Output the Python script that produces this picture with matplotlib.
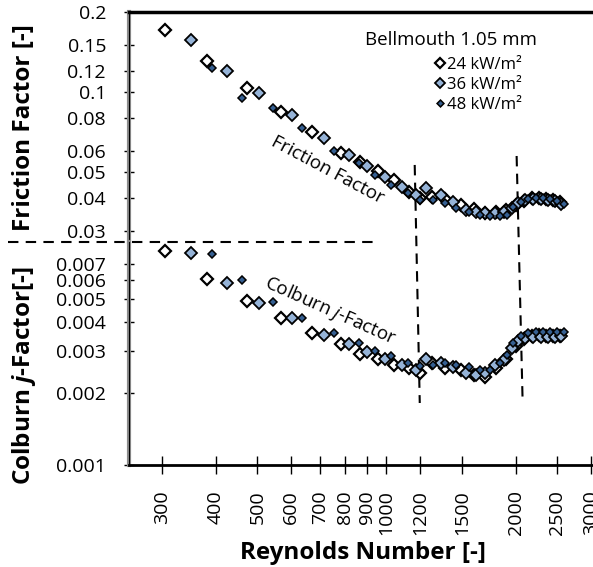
import matplotlib
matplotlib.use("Agg")
import matplotlib.pyplot as plt
from matplotlib.lines import Line2D
from matplotlib.ticker import FixedLocator, NullLocator

plt.rcParams['font.family'] = ['Open Sans', 'DejaVu Sans']
plt.rcParams['mathtext.fontset'] = 'custom'
plt.rcParams['mathtext.it'] = 'Open Sans:italic'
plt.rcParams['mathtext.bf'] = 'Open Sans:bold:italic'
plt.rcParams['mathtext.rm'] = 'Open Sans'

# ---------------- data ----------------
re_24 = [305, 381, 474, 569, 670, 784, 870, 958, 1044, 1130, 1200, 1280, 1370, 1490,
         1600, 1700, 1800, 1900, 2000, 2090, 2180, 2270, 2360, 2450, 2540]
f_24 = [0.171, 0.131, 0.1036, 0.0842, 0.0708, 0.0590, 0.0545, 0.0505, 0.0467, 0.0421,
        0.0400, 0.0403, 0.0395, 0.0377, 0.0362, 0.0352, 0.0355, 0.0360, 0.0375, 0.0390,
        0.0398, 0.0400, 0.0396, 0.0392, 0.0385]
j_24 = [0.00794, 0.00606, 0.00490, 0.00416, 0.00360, 0.00321, 0.00294, 0.00280, 0.00262,
        0.00255, 0.00243, 0.00267, 0.00255, 0.00250, 0.00240, 0.00235, 0.00255, 0.00280,
        0.00315, 0.00340, 0.00350, 0.00352, 0.00350, 0.00348, 0.00350]

re_36 = [351, 425, 505, 601, 715, 818, 902, 995, 1085, 1170, 1235, 1340, 1430, 1530,
         1620, 1700, 1790, 1880, 1960, 2030, 2110, 2200, 2290, 2380, 2470, 2560]
f_36 = [0.157, 0.120, 0.0992, 0.0820, 0.0672, 0.0580, 0.0527, 0.0479, 0.0440, 0.0410,
        0.0437, 0.0410, 0.0386, 0.0361, 0.0355, 0.0350, 0.0352, 0.0355, 0.0367, 0.0384,
        0.0392, 0.0395, 0.0396, 0.0393, 0.0390, 0.0380]
j_36 = [0.00778, 0.00583, 0.00481, 0.00416, 0.00353, 0.00321, 0.00297, 0.00280, 0.00262,
        0.00250, 0.00280, 0.00267, 0.00257, 0.00243, 0.00238, 0.00243, 0.00262, 0.00275,
        0.00309, 0.00333, 0.00343, 0.00345, 0.00345, 0.00345, 0.00345, 0.00348]

re_48 = [392, 461, 545, 634, 755, 864, 942, 1027, 1121, 1200, 1283, 1370, 1455, 1555,
         1650, 1747, 1845, 1915, 1975, 2060, 2140, 2230, 2320, 2410, 2500, 2600]
f_48 = [0.123, 0.0950, 0.0871, 0.0733, 0.0600, 0.0541, 0.0488, 0.0448, 0.0418, 0.0393,
        0.0393, 0.0384, 0.0367, 0.0355, 0.0346, 0.0341, 0.0341, 0.0346, 0.0370, 0.0385,
        0.0395, 0.0398, 0.0398, 0.0395, 0.0390, 0.0378]
j_48 = [0.00771, 0.00600, 0.00486, 0.00416, 0.00357, 0.00324, 0.00300, 0.00286, 0.00267,
        0.00260, 0.00262, 0.00267, 0.00262, 0.00257, 0.00250, 0.00250, 0.00267, 0.00289,
        0.00324, 0.00350, 0.00360, 0.00362, 0.00362, 0.00362, 0.00362, 0.00362]

labels = ["24 kW/m\u00b2", "36 kW/m\u00b2", "48 kW/m\u00b2"]

x_ticks = [300, 400, 500, 600, 700, 800, 900, 1000, 1200, 1500, 2000, 2500, 3000]
x_ticklabels = ["300", "400", "500", "600", "700", "800", "900", "1000", "1200",
                "1500", "2000", "2500", "3000"]
f_ticks = [0.03, 0.04, 0.05, 0.06, 0.08, 0.1, 0.12, 0.15, 0.2]
f_ticklabels = ["0.03", "0.04", "0.05", "0.06", "0.08", "0.1", "0.12", "0.15", "0.2"]
j_ticks = [0.001, 0.002, 0.003, 0.004, 0.005, 0.006, 0.007]
j_ticklabels = ["0.001", "0.002", "0.003", "0.004", "0.005", "0.006", "0.007"]

# transition guide lines (Re at top, Re at bottom)
trans1 = [1164, 1196]
trans2 = [2012, 2078]

# ---------------- styles ----------------
styles = [
    dict(marker='D', ms=5.8, mfc='white', mec='black', mew=1.6),
    dict(marker='D', ms=5.8, mfc='#95B3D7', mec='black', mew=1.3),
    dict(marker='D', ms=4.1, mfc='#355F91', mec='black', mew=1.1),
]

W, H = 593, 567
fig = plt.figure(figsize=(W / 100, H / 100), dpi=100)
L = 129 / W
axt = fig.add_axes([L, 1 - 242 / H, 1 - L, 230 / H])
axb = fig.add_axes([L, 1 - 465 / H, 1 - L, 223 / H])

xlim = (251, 3032)
for ax in (axt, axb):
    ax.set_xscale('log')
    ax.set_yscale('log')
    ax.set_xlim(*xlim)
    ax.patch.set_alpha(0)
    ax.spines['right'].set_visible(False)
    ax.spines['left'].set_color('#8c8c8c')
    ax.spines['left'].set_linewidth(3)
    ax.plot([0, 0], [0, 1], transform=ax.transAxes, color='black', lw=0.8,
            clip_on=False, zorder=3)
    ax.xaxis.set_minor_locator(NullLocator())
    ax.yaxis.set_minor_locator(NullLocator())
    ax.tick_params(axis='y', which='major', direction='inout', length=7, width=1,
                   labelsize=14, pad=13, colors='black')

axt.set_ylim(0.0273, 0.2)
axb.set_ylim(0.001, 0.00865)

axt.spines['bottom'].set_visible(False)
axt.spines['top'].set_linewidth(2.5)
axb.spines['top'].set_visible(False)
axb.spines['bottom'].set_linewidth(2)

axt.yaxis.set_major_locator(FixedLocator(f_ticks))
axt.set_yticklabels(f_ticklabels)
axb.yaxis.set_major_locator(FixedLocator(j_ticks))
axb.set_yticklabels(j_ticklabels)

axt.xaxis.set_major_locator(FixedLocator(x_ticks))
axt.tick_params(axis='x', bottom=False, labelbottom=False, top=False)
axb.xaxis.set_major_locator(FixedLocator(x_ticks))
axb.set_xticklabels(x_ticklabels)
axb.tick_params(axis='x', direction='inout', length=13, width=1, labelsize=14,
                pad=11.5, labelrotation=90)

handles = []
for re, f, j, st, lab in zip([re_24, re_36, re_48], [f_24, f_36, f_48],
                             [j_24, j_36, j_48], styles, labels):
    h, = axt.plot(re, f, ls='none', label=lab, clip_on=False, zorder=4, **st)
    axb.plot(re, j, ls='none', clip_on=False, zorder=4, **st)
    handles.append(h)

# guide lines
tr = axt.get_xaxis_transform()
for t, (ytop, ybot) in zip([trans1, trans2], [(0.335, -0.70), (0.374, -0.696)]):
    axt.add_line(Line2D(t, [ytop, ybot], transform=tr, color='black', lw=1.5,
                        ls=(0, (5, 3.5)), clip_on=False, zorder=2))
fig.add_artist(Line2D([8 / W, 375 / W], [1 - 242 / H, 1 - 242 / H], color='black',
                      lw=1.5, ls=(0, (5, 3.5))))

# texts
fig.text(451 / W, 1 - 40 / H, "Bellmouth 1.05 mm", ha='center', va='center', fontsize=13.5)
leg = axt.legend(handles=handles, loc='upper right', bbox_to_anchor=(522 / W, 1 - 57 / H),
                 bbox_transform=fig.transFigure, frameon=False, fontsize=12,
                 handlelength=0.6, handletextpad=0.15, labelspacing=0.25,
                 borderpad=0, borderaxespad=0, markerscale=0.85)

fig.text(328 / W, 1 - 170 / H, "Friction Factor", ha='center', va='center',
         rotation=-28, rotation_mode='anchor', fontsize=13.5)
fig.text(330 / W, 1 - 311 / H, "Colburn $j$-Factor", ha='center', va='center',
         rotation=-24, rotation_mode='anchor', fontsize=13.5)

fig.text(24 / W, 1 - 128 / H, "Friction Factor [-]", ha='center', va='center',
         rotation=90, fontsize=17.5, fontweight='bold')
fig.text(24 / W, 1 - 376 / H, "Colburn $\\mathbf{j}$-Factor[-]", ha='center', va='center',
         rotation=90, fontsize=17.5, fontweight='bold')
fig.text(363 / W, 1 - 553 / H, "Reynolds Number [-]", ha='center', va='center',
         fontsize=17.5, fontweight='bold')

fig.savefig("out.png", dpi=100)
